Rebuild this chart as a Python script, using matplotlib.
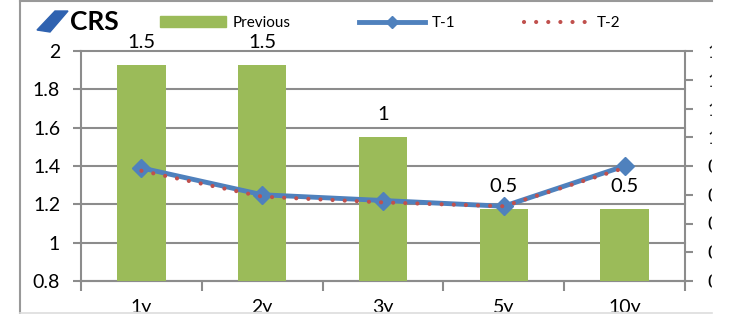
import numpy as np
import matplotlib.pyplot as plt
from matplotlib.lines import Line2D
from matplotlib.patches import Patch, Polygon, Rectangle

# values
categories = ["1y", "2y", "3y", "5y", "10y"]
previous = [1.5, 1.5, 1.0, 0.5, 0.5]          # bars, right axis
t1 = [1.39, 1.25, 1.22, 1.19, 1.40]            # left axis
t2 = [1.375, 1.24, 1.21, 1.19, 1.39]           # left axis

left_ticks = [0.8, 1.0, 1.2, 1.4, 1.6, 1.8, 2.0]
right_ticks = [0, 0.2, 0.4, 0.6, 0.8, 1.0, 1.2, 1.4, 1.6]

GREEN = "#9BBB59"
BLUE = "#4F81BD"
RED = "#C0504D"
GRAY = "#8c8c8c"
DOTS = (0, (0.01, 2.9))

plt.rcParams['font.family'] = ['Lato', 'DejaVu Sans']

W, H = 735, 314
fig = plt.figure(figsize=(W / 100, H / 100), dpi=100)
rect = [81 / W, 33 / H, 604 / W, 230 / H]

ax = fig.add_axes(rect)
ax2 = ax.twinx()
ax3 = fig.add_axes(rect, sharex=ax, sharey=ax)

x = np.arange(len(categories))

# bars on the secondary axis
ax2.bar(x, previous, width=0.4, color=GREEN, zorder=2)
for xi, v in zip(x, previous):
    ax2.annotate(f"{v:g}", (xi, v), xytext=(0, 12.5), textcoords="offset points",
                 ha="center", va="baseline", fontsize=14.5, annotation_clip=False)

# lines on top
ax3.plot(x, t1, color=BLUE, lw=3.5, marker="D", ms=9, zorder=3)
ax3.plot(x, t2, color=RED, lw=3, linestyle=DOTS, dash_capstyle="round", zorder=4)
ax3.patch.set_visible(False)
ax3.axis("off")

# primary axis
ax.set_xlim(-0.5, len(categories) - 0.5)
ax.set_ylim(0.8, 2.0)
ax.set_yticks(left_ticks, [f"{v:g}" for v in left_ticks])
ax.grid(axis="y", color=GRAY, lw=1.5)
for gl in ax.get_ygridlines():
    gl.set_clip_on(False)
ax.set_axisbelow(True)
ax.tick_params(axis="y", length=6, width=1.5, color=GRAY, pad=9, labelsize=14)
ax.set_xticks(x, categories)
ax.tick_params(axis="x", length=0, pad=13, labelsize=14)
ax.set_xticks(np.arange(-0.5, len(categories), 1), minor=True)
ax.tick_params(axis="x", which="minor", length=7, width=1.5, color=GRAY)
for s in ["top", "right"]:
    ax.spines[s].set_visible(False)
for s in ["left", "bottom"]:
    ax.spines[s].set_color(GRAY)
    ax.spines[s].set_linewidth(1.5)

ax2.set_ylim(0, 1.6)
ax2.set_yticks(right_ticks, [f"{v:g}" for v in right_ticks])
ax2.tick_params(axis="y", length=6, width=1.5, color=GRAY, pad=10, labelsize=14)
for s in ["top", "left", "bottom"]:
    ax2.spines[s].set_visible(False)
ax2.spines["right"].set_color(GRAY)
ax2.spines["right"].set_linewidth(1.5)

# legend
handles = [
    Patch(color=GREEN),
    Line2D([], [], color=BLUE, lw=3.5, marker="D", ms=6),
    Line2D([], [], color=RED, lw=3, linestyle=DOTS, dash_capstyle="round"),
]
fig.legend(handles, ["Previous", "T-1", "T-2"], loc="center left",
           bbox_to_anchor=(160 / W, 1 - 23 / H), ncol=3, frameon=False,
           fontsize=11, handlelength=4.3, handletextpad=0.45, columnspacing=4.5,
           borderpad=0, borderaxespad=0)

# title with the little blue mark
fig.text(70 / W, 1 - 22 / H, "CRS", fontsize=19, fontweight="bold", va="center")
icon = [(37, 30), (55, 11), (68, 11), (50, 32)]
fig.add_artist(Polygon([(px / W, 1 - py / H) for px, py in icon],
                       closed=True, color="#2f62b0", transform=fig.transFigure))

# cropped chart frame
fig.add_artist(Rectangle((712 / W, 0), 1, 1, color="white", zorder=10,
                         transform=fig.transFigure))
fig.add_artist(Rectangle((0, 0), 1, 2 / H, color="white", zorder=10,
                         transform=fig.transFigure))
fig.add_artist(Line2D([20 / W, 20 / W], [0, 1], color="#999999", lw=1.5,
                      transform=fig.transFigure, zorder=11))
fig.add_artist(Line2D([20 / W, 712 / W], [1 - 1 / H, 1 - 1 / H], color="#999999",
                      lw=1.5, transform=fig.transFigure, zorder=11))
fig.add_artist(Line2D([20 / W, 712 / W], [1.2 / H, 1.2 / H], color="#dddddd",
                      lw=1.2, transform=fig.transFigure, zorder=11))

fig.savefig("out.png", dpi=100)
